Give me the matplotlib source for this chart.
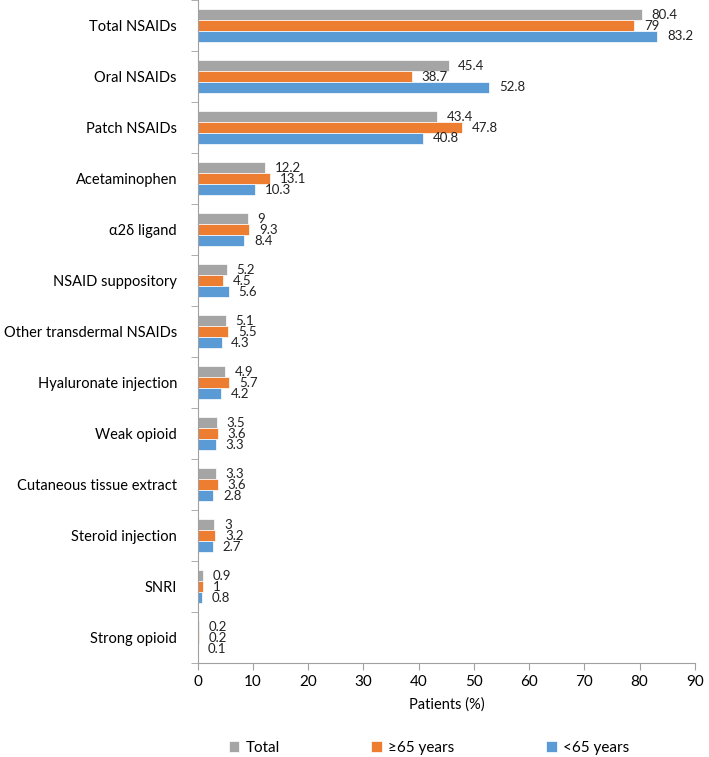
import matplotlib
matplotlib.use("Agg")
import matplotlib.pyplot as plt
import numpy as np

categories = ["Total NSAIDs", "Oral NSAIDs", "Patch NSAIDs", "Acetaminophen",
              "α2δ ligand", "NSAID suppository", "Other transdermal NSAIDs",
              "Hyaluronate injection", "Weak opioid", "Cutaneous tissue extract",
              "Steroid injection", "SNRI", "Strong opioid"]
total = [80.4, 45.4, 43.4, 12.2, 9, 5.2, 5.1, 4.9, 3.5, 3.3, 3, 0.9, 0.2]
ge65 = [79, 38.7, 47.8, 13.1, 9.3, 4.5, 5.5, 5.7, 3.6, 3.6, 3.2, 1, 0.2]
lt65 = [83.2, 52.8, 40.8, 10.3, 8.4, 5.6, 4.3, 4.2, 3.3, 2.8, 2.7, 0.8, 0.1]
series_names = ["Total", "≥65 years", "<65 years"]
colors = ["#A5A5A5", "#ED7D31", "#5B9BD5"]

plt.rcParams['font.family'] = ['Lato', 'DejaVu Sans']

fig = plt.figure(figsize=(7.09, 7.57), dpi=100)
ax = fig.add_axes([0.279, 0.124, 0.701, 0.876])

y = np.arange(len(categories))
h = 0.215
series = [total, ge65, lt65]
offsets = [-h, 0, h]
handles = []
for vals, off, c, name in zip(series, offsets, colors, series_names):
    b = ax.barh(y + off, vals, height=h, color=c, edgecolor='white', linewidth=0.5, label=name)
    handles.append(b)
    for yi, v in zip(y, vals):
        ax.annotate(f"{v:g}", (v, yi + off), xytext=(7, 0), textcoords='offset points',
                    va='center', ha='left', fontsize=9.5, color='#222222')

ax.set_ylim(len(categories) - 0.5, -0.5)
ax.set_xlim(0, 90)
ax.set_xticks(np.arange(0, 91, 10))
ax.set_yticks(y)
ax.set_yticklabels(categories, fontsize=10.5)
ax.set_yticks(np.arange(-0.5, len(categories), 1), minor=True)
ax.tick_params(axis='y', which='major', length=0, pad=15)
ax.tick_params(axis='y', which='minor', length=5, color='#A0A0A0')
ax.tick_params(axis='x', length=5, color='#A0A0A0', labelsize=11)
for s in ['top', 'right']:
    ax.spines[s].set_visible(False)
for s in ['left', 'bottom']:
    ax.spines[s].set_color('#A0A0A0')
ax.set_xlabel("Patients (%)", fontsize=10.5, labelpad=6)

fig.legend(handles=handles, labels=series_names, loc='center', bbox_to_anchor=(0.605, 0.012),
           ncol=3, frameon=False, fontsize=11, handlelength=0.7, handleheight=0.7,
           columnspacing=6.0, handletextpad=0.4)

fig.savefig("out.png", dpi=100)
